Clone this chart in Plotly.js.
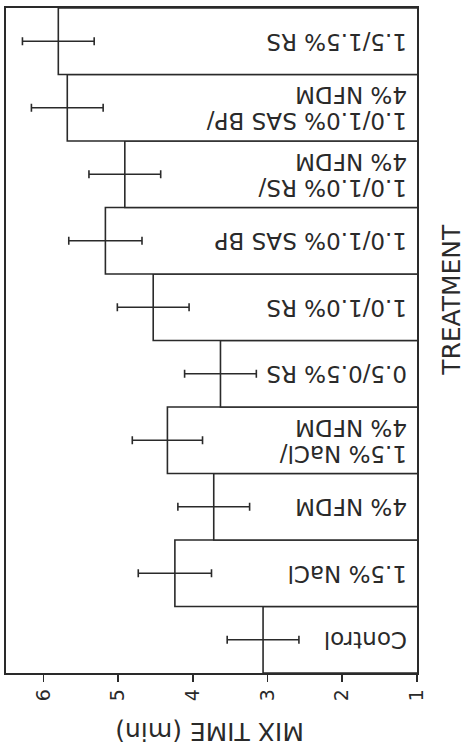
<!DOCTYPE html>
<html>
<head>
<meta charset="utf-8">
<script src="https://cdn.plot.ly/plotly-3.0.1.min.js"></script>
<style>html,body{margin:0;padding:0;background:#fff;}#chart{width:466px;height:747px;}</style>
</head>
<body>
<div id="chart"></div>
<script>
// Data
var categories = [
  "Control",
  "1.5% NaCl",
  "4% NFDM",
  "1.5% NaCl/<br>4% NFDM",
  "0.5/0.5% RS",
  "1.0/1.0% RS",
  "1.0/1.0% SAS BP",
  "1.0/1.0% RS/<br>4% NFDM",
  "1.0/1.0% SAS BP/<br>4% NFDM",
  "1.5/1.5% RS"
];
var mixTime = [3.06, 4.24, 3.72, 4.34, 3.63, 4.53, 5.17, 4.91, 5.68, 5.80];
var mixTimeErr = [0.48, 0.49, 0.48, 0.47, 0.48, 0.48, 0.49, 0.48, 0.48, 0.48];
var tickValues = [1, 2, 3, 4, 5, 6];
var tickLabels = ["1", "2", "3", "4", "5", "6"];
var xTitle = "MIX TIME (min)";
var yTitle = "TREATMENT";

var ink = "#2a2a2a";
var FONT = "DejaVu Sans, Arial, sans-serif";

var trace = {
  type: "bar",
  orientation: "h",
  y: categories,
  x: mixTime,
  marker: {color: "#ffffff", line: {color: ink, width: 1.6}},
  error_x: {type: "data", array: mixTimeErr, visible: true, color: ink, thickness: 1.6, width: 4},
  hoverinfo: "x+y"
};

// labels inside bars (upside-down text), one annotation per line
var annotations = [];
var pitch = 26;
categories.forEach(function (cat) {
  var lines = cat.split("<br>");
  var n = lines.length;
  lines.forEach(function (line, i) {
    annotations.push({
      xref: "x", yref: "y",
      x: 1, y: cat,
      xanchor: "right", yanchor: "middle",
      xshift: -8,
      yshift: (i - (n - 1) / 2) * pitch,
      text: line,
      textangle: 180,
      showarrow: false,
      font: {family: FONT, size: 23, color: ink}
    });
  });
});

annotations.push({
  xref: "paper", yref: "paper",
  x: 0.495, y: -0.088,
  xanchor: "center", yanchor: "middle",
  text: xTitle, textangle: 180, showarrow: false,
  font: {family: FONT, size: 25, color: ink}
});
annotations.push({
  xref: "paper", yref: "paper",
  x: 1.085, y: 0.561,
  xanchor: "center", yanchor: "middle",
  text: yTitle, textangle: -90, showarrow: false,
  font: {family: FONT, size: 25, color: ink}
});

var layout = {
  width: 466, height: 747,
  margin: {l: 6, r: 49, t: 8, b: 74, pad: 0},
  paper_bgcolor: "#ffffff", plot_bgcolor: "#ffffff",
  showlegend: false,
  bargap: 0,
  font: {family: FONT, color: ink},
  xaxis: {
    range: [6.5, 1],
    tickvals: tickValues, ticktext: tickLabels,
    tickangle: -90,
    ticks: "outside", ticklen: 7, tickwidth: 1.6, tickcolor: ink,
    tickfont: {family: FONT, size: 19, color: ink},
    showline: true, mirror: true, linecolor: ink, linewidth: 1.6,
    showgrid: false, zeroline: false
  },
  yaxis: {
    type: "category",
    showticklabels: false, ticks: "",
    showline: true, mirror: true, linecolor: ink, linewidth: 1.6,
    showgrid: false, zeroline: false
  },
  annotations: annotations
};

Plotly.newPlot("chart", [trace], layout, {displayModeBar: false, staticPlot: true});
</script>
</body>
</html>
